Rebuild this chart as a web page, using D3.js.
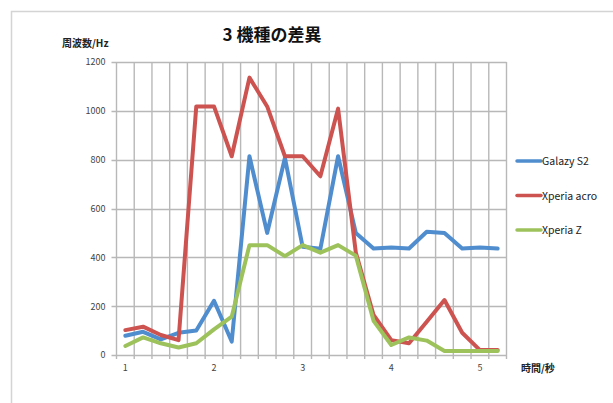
<!DOCTYPE html>
<html>
<head>
<meta charset="utf-8">
<script src="https://cdn.jsdelivr.net/npm/d3@7"></script>
<style>
  body { margin: 0; background: #fff; }
  text { font-family: "Noto Sans CJK JP", "Noto Sans", sans-serif; }
</style>
</head>
<body>
<script>
// categories (time in seconds) and series values
var categories = ["1", "1.2", "1.4", "1.6", "1.8", "2", "2.2", "2.4", "2.6", "2.8", "3",
                  "3.2", "3.4", "3.6", "3.8", "4", "4.2", "4.4", "4.6", "4.8", "5", "5.2"];
var tickLabels = ["1", "2", "3", "4", "5"];
var yTicks = [0, 200, 400, 600, 800, 1000, 1200];

var galaxyS2   = [79, 95, 64, 91, 100, 222, 55, 814, 500, 807, 443, 435, 814, 500, 436, 440, 436, 505, 500, 436, 440, 436];
var xperiaAcro = [102, 116, 82, 61, 1018, 1018, 814, 1136, 1018, 814, 814, 732, 1009, 420, 164, 61, 48, 136, 225, 91, 20, 20];
var xperiaZ    = [37, 72, 48, 31, 48, 105, 157, 450, 450, 405, 450, 419, 450, 407, 140, 41, 72, 59, 16, 16, 16, 16];

var seriesNames = ["Galazy S2", "Xperia acro", "Xperia Z"];
var colors = ["#4f8dcf", "#cd5350", "#9dc25b"];

var series = [galaxyS2, xperiaAcro, xperiaZ];

var W = 613, H = 403;
var plot = {left: 116.5, right: 506.5, top: 62, bottom: 355};

var svg = d3.select("body").append("svg")
    .attr("width", W)
    .attr("height", H);

// outer chart frame (runs off the picture on the right and bottom)
svg.append("rect")
    .attr("x", 11.5).attr("y", 11.5)
    .attr("width", 700).attr("height", 500)
    .attr("fill", "none")
    .attr("stroke", "#d4d4d4")
    .attr("stroke-width", 1.5);

var x = d3.scaleBand()
    .domain(categories)
    .range([plot.left, plot.right])
    .padding(0);

var y = d3.scaleLinear()
    .domain([0, 1200])
    .range([plot.bottom, plot.top]);

// horizontal gridlines
svg.append("g")
  .selectAll("line")
  .data(yTicks)
  .join("line")
    .attr("x1", plot.left - 5)
    .attr("x2", plot.right)
    .attr("y1", function(d) { return Math.round(y(d)) + 0.5; })
    .attr("y2", function(d) { return Math.round(y(d)) + 0.5; })
    .attr("stroke", "#b8b8b8")
    .attr("stroke-width", 1.4);

// vertical gridlines at category boundaries (with tick marks under the axis)
var bounds = categories.map(function(c) { return x(c); }).concat([plot.right]);
svg.append("g")
  .selectAll("line")
  .data(bounds)
  .join("line")
    .attr("x1", function(d) { return d; })
    .attr("x2", function(d) { return d; })
    .attr("y1", plot.top)
    .attr("y2", plot.bottom + 4)
    .attr("stroke", "#b8b8b8")
    .attr("stroke-width", 1.4);

// y axis labels
svg.append("g")
    .attr("transform", "translate(" + (plot.left - 2) + ",0)")
    .call(d3.axisLeft(y).tickValues(yTicks).tickFormat(d3.format("d")).tickSize(0).tickPadding(9))
    .call(function(g) { g.select(".domain").remove(); })
    .selectAll("text")
    .attr("font-size", 9)
    .attr("fill", "#444")
    .style("font-family", "'Noto Sans CJK JP', sans-serif");

// x axis labels, only every 5th category
svg.append("g")
    .attr("transform", "translate(0," + plot.bottom + ")")
    .call(d3.axisBottom(x).tickValues(tickLabels).tickSize(0).tickPadding(10))
    .call(function(g) { g.select(".domain").remove(); })
    .selectAll("text")
    .attr("font-size", 9)
    .attr("fill", "#444")
    .style("font-family", "'Noto Sans CJK JP', sans-serif");

// the lines
var line = d3.line()
    .x(function(d, i) { return x(categories[i]) + x.bandwidth() / 2; })
    .y(function(d) { return y(d); });

svg.append("g")
  .selectAll("path")
  .data(series)
  .join("path")
    .attr("d", line)
    .attr("fill", "none")
    .attr("stroke", function(d, i) { return colors[i]; })
    .attr("stroke-width", 4)
    .attr("stroke-linejoin", "round")
    .attr("stroke-linecap", "round");

// title and axis titles
svg.append("text")
    .attr("x", 272).attr("y", 41)
    .attr("text-anchor", "middle")
    .attr("font-size", 17)
    .attr("font-weight", "bold")
    .attr("fill", "#111")
    .text("3 機種の差異");

svg.append("text")
    .attr("x", 62).attr("y", 47)
    .attr("font-size", 10)
    .attr("font-weight", "bold")
    .attr("fill", "#222")
    .text("周波数/Hz");

svg.append("text")
    .attr("x", 521).attr("y", 372)
    .attr("font-size", 10)
    .attr("font-weight", "bold")
    .attr("fill", "#222")
    .text("時間/秒");

// legend
var legend = svg.append("g")
  .selectAll("g")
  .data(seriesNames)
  .join("g")
    .attr("transform", function(d, i) { return "translate(517," + (161 + i * 34.5) + ")"; });

legend.append("line")
    .attr("x1", 0).attr("x2", 24)
    .attr("stroke", function(d, i) { return colors[i]; })
    .attr("stroke-width", 3.5)
    .attr("stroke-linecap", "round");

legend.append("text")
    .attr("x", 25).attr("y", 4)
    .attr("font-size", 10.5)
    .attr("fill", "#222")
    .text(function(d) { return d; });
</script>
</body>
</html>
